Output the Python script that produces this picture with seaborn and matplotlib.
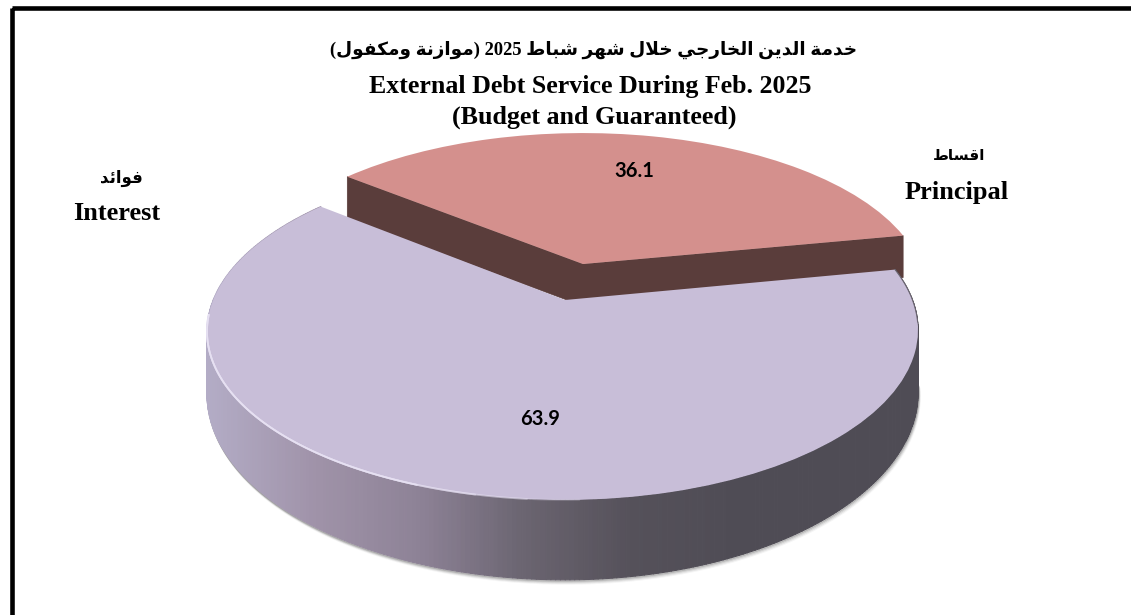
# External debt service pie, drawn with a tilted disc look

import numpy as np
import seaborn as sns
import matplotlib.pyplot as plt
from matplotlib.collections import PolyCollection
from matplotlib.patches import Rectangle
from matplotlib.transforms import Transform

# ----- data -----
categories_en = ["Principal", "Interest"]
categories_ar = ["اقساط", "فوائد"]
shares = [36.1, 63.9]

title_ar = "خدمة الدين الخارجي خلال شهر شباط 2025 (موازنة ومكفول)"
title_en = ["External Debt Service During Feb. 2025", "(Budget and Guaranteed)"]

# ----- style -----
sns.set_theme(style="white")
plt.rcParams["font.family"] = ["Liberation Serif", "DejaVu Sans"]

principal_top = "#d4908d"
principal_cut = "#5a3d3b"
interest_top = "#c8bed8"
wall_colors = ["#b3acc6", "#a093a9", "#8d8296", "#6a6470", "#55515a", "#4f4c55"]

START_ANGLE = 11
TILT = 0.176
RX, RY = 347.5, 164.7
WALL_H = 60
WALL_TILT = 0.25
LEFT_PULL = 4.3

# (first, last) joined forms start here; two-form letters do not join forward
FORMS = {
    "ا": (0xFE8D, 2), "ب": (0xFE8F, 4), "ة": (0xFE93, 2), "ج": (0xFE9D, 4),
    "خ": (0xFEA5, 4), "د": (0xFEA9, 2), "ر": (0xFEAD, 2), "ز": (0xFEAF, 2),
    "س": (0xFEB1, 4), "ش": (0xFEB5, 4), "ط": (0xFEC1, 4), "ف": (0xFED1, 4),
    "ق": (0xFED5, 4), "ك": (0xFED9, 4), "ل": (0xFEDD, 4), "م": (0xFEE1, 4),
    "ن": (0xFEE5, 4), "ه": (0xFEE9, 4), "و": (0xFEED, 2), "ي": (0xFEF1, 4),
    "ئ": (0xFE89, 4),
}


def shape_word(word):
    out = []
    i = 0
    joined = False
    while i < len(word):
        c = word[i]
        if c == "ل" and i + 1 < len(word) and word[i + 1] == "ا":
            out.append(chr(0xFEFC if joined else 0xFEFB))
            joined = False
            i += 2
            continue
        base, n = FORMS[c]
        has_next = i + 1 < len(word) and n == 4
        if joined and has_next:
            form = 3
        elif joined:
            form = 1
        elif has_next:
            form = 2
        else:
            form = 0
        out.append(chr(base + form))
        joined = has_next
        i += 1
    return "".join(out)


def arabic(text):
    # matplotlib has no shaping or bidi, so give it visual order
    parts = []
    for word in text.split(" "):
        if word.isdigit():
            parts.append(word)
            continue
        opening = word.startswith("(")
        closing = word.endswith(")")
        core = shape_word(word.strip("()"))[::-1]
        # the parens swap once the run reads left to right
        if opening:
            core = core + ")"
        if closing:
            core = "(" + core
        parts.append(core)
    return " ".join(parts[::-1])


def project(u, v, cx, cy, sx=1.0, sy=1.0, pull=0.0):
    u = np.asarray(u)
    v = np.asarray(v)
    d = 1 + TILT * v
    # the left side of the big slice bulges a little further out
    bulge = pull * np.clip(-u, 0, None) * (1 - v)
    return cx + sx * RX * u / d - bulge, cy - sy * RY * v / d


class Disc(Transform):
    # unit pie circle to picture pixels
    input_dims = output_dims = 2

    def __init__(self, cx, cy, sx=1.0, sy=1.0, pull=0.0):
        super().__init__()
        self.args = (cx, cy, sx, sy, pull)

    def transform_non_affine(self, values):
        values = np.asarray(values)
        x, y = project(values[:, 0], values[:, 1], *self.args)
        return np.column_stack([x, y])

    def inverted(self):
        raise NotImplementedError


def wall_depth(v):
    return WALL_H / (1 + WALL_TILT * np.asarray(v))


fig = plt.figure(figsize=(11.31, 6.15), dpi=100, facecolor="white")
ax = fig.add_axes([0, 0, 1, 1])

wedges, _ = ax.pie(shares, colors=[principal_top, interest_top], startangle=START_ANGLE,
                   wedgeprops=dict(edgecolor="none", linewidth=0))
ax.set_xlim(0, 1131)
ax.set_ylim(615, 0)
ax.set_axis_off()

principal, interest = wedges
p_args = (583, 264, 0.97, 0.935)
i_args = (565, 300, 1.0, 1.0, LEFT_PULL)
principal.set_transform(Disc(*p_args) + ax.transData)
interest.set_transform(Disc(*i_args) + ax.transData)
principal.set_zorder(3)
interest.set_zorder(5)

# cut faces of the pulled out slice
for theta in (principal.theta1, principal.theta2):
    t = np.deg2rad(theta)
    ex, ey = project(np.cos(t), np.sin(t), *p_args)
    ax_, ay_ = project(0.0, 0.0, *p_args)
    ax.fill([ax_, ex, ex, ax_], [ay_, ey, ey + 42, ay_ + 42],
            color=principal_cut, lw=0.5, zorder=2)

# rim of the big slice, shaded left to right
angles = np.deg2rad(np.linspace(interest.theta1, interest.theta2, 361))
top_x, top_y = project(np.cos(angles), np.sin(angles), *i_args)
low_y = top_y + wall_depth(np.sin(angles))
quads = [
    [(top_x[i], top_y[i]), (top_x[i + 1], top_y[i + 1]),
     (top_x[i + 1], low_y[i + 1]), (top_x[i], low_y[i])]
    for i in range(len(angles) - 1)
]
ramp = sns.blend_palette(wall_colors, n_colors=256)
pos = (top_x[:-1] - top_x.min()) / (top_x.max() - top_x.min())
# most of the darkening is done by two thirds of the way across
face = [ramp[int(min(p * 1.35, 1) * 255)] for p in pos]
ax.add_collection(PolyCollection(quads, facecolors=face, edgecolors=face, linewidths=0.8, zorder=4))

# soft shadow under the rim, thin light edge front left, thin dark edge top right
front = np.sin(angles) < -0.12
for off, alpha in zip([1, 2, 3, 4], [0.35, 0.22, 0.12, 0.06]):
    ax.plot(top_x[front] + off * 0.5, low_y[front] + off, color="#555555", alpha=alpha, lw=1.2, zorder=1)
deg = np.rad2deg(angles)
for end, alpha in zip([272, 265, 258, 250], [0.25, 0.4, 0.6, 1.0]):
    light = (deg > 185) & (deg < end)
    ax.plot(top_x[light], top_y[light], color="#e6e0f2", alpha=alpha, lw=1.3, zorder=6)
ax.plot(top_x[deg > 352], top_y[deg > 352], color="#6a6570", lw=0.8, zorder=6)

# ----- text -----
bold = dict(fontweight="bold", color="black", ha="center", va="center", zorder=8)
ax.text(594, 50, arabic(title_ar), fontsize=13.3, **bold)
ax.text(590, 87, title_en[0], fontsize=18.6, **bold)
ax.text(594, 117, title_en[1], fontsize=18.7, **bold)

ax.text(959, 157, arabic(categories_ar[0]), fontsize=11, **bold)
ax.text(957, 192, categories_en[0], fontsize=19, **bold)
ax.text(121, 178, arabic(categories_ar[1]), fontsize=12, **bold)
ax.text(117, 214, categories_en[1], fontsize=19, **bold)

num = dict(fontweight="bold", color="black", ha="center", va="center", family="Lato", fontsize=14.5, zorder=8)
ax.text(634, 171, f"{shares[0]:.1f}", **num)
ax.text(540, 419, f"{shares[1]:.1f}", **num)

# frame: only the left and top sides fall inside the picture
ax.add_patch(Rectangle((12.2, 8.3), 1300, 800, fill=False, edgecolor="black", lw=3.3, zorder=9))

fig.savefig("out.png", dpi=100, facecolor="white")
plt.close(fig)
